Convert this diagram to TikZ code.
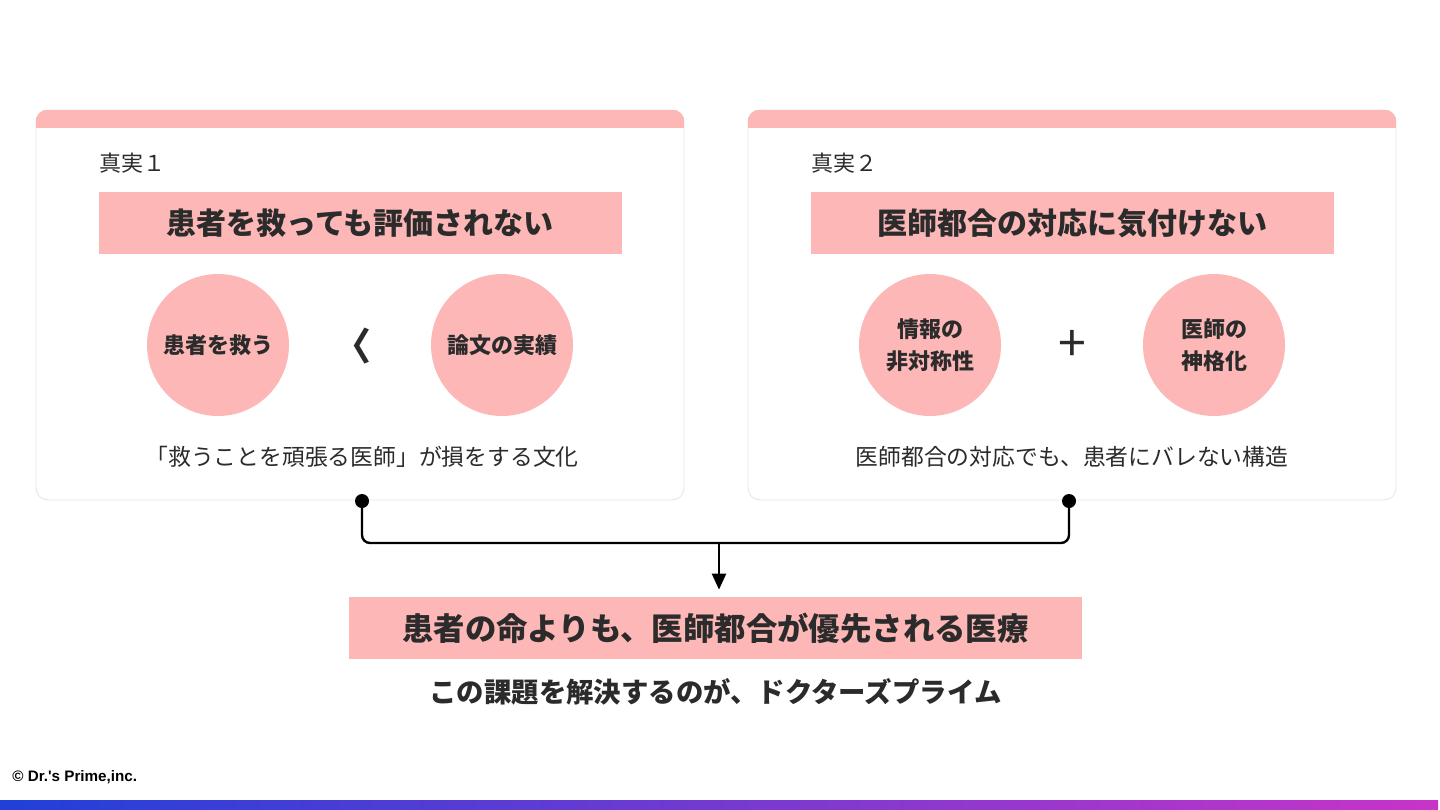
\documentclass[tikz,border=0pt]{standalone}
\usepackage{fontspec}
\setmainfont{Noto Sans CJK JP}
\newfontfamily\latinsans{Liberation Sans}
\usepackage{xcolor}
\usetikzlibrary{positioning, arrows.meta, shapes.geometric}

\definecolor{pinkc}{HTML}{FDB7B7}
\definecolor{inkc}{HTML}{2B2B2B}
\definecolor{edgec}{HTML}{E4E4E4}
\definecolor{barleft}{HTML}{2040D8}
\definecolor{barright}{HTML}{C834C8}

\begin{document}
\begin{tikzpicture}[
    x=0.5pt, y=-0.5pt,
    every node/.style={text=inkc},
    card/.style={rectangle, draw=edgec, fill=white, rounded corners=6pt, minimum width=324pt, minimum height=195pt},
    headbar/.style={rectangle, fill=pinkc, minimum width=261.5pt, minimum height=31pt, font=\fontsize{15pt}{18pt}\selectfont\bfseries},
    bubble/.style={circle, fill=pinkc, minimum size=71pt, inner sep=0pt, align=center, font=\fontsize{11pt}{16pt}\selectfont\bfseries},
    tag/.style={anchor=west, inner sep=0pt, font=\fontsize{11pt}{12pt}\selectfont},
    caption/.style={font=\fontsize{11.4pt}{14pt}\selectfont},
    dot/.style={circle, fill=black, minimum size=7pt, inner sep=0pt},
    link/.style={line width=1.2pt, rounded corners=4pt}
]
\useasboundingbox (0,0) rectangle (1440,809);

% Cards
\node[card] (card1) at (360,305) {};
\node[card] (card2) at (1072,305) {};
\foreach \c in {card1, card2} {
  \begin{scope}
    \clip[rounded corners=6pt] (\c.north west) rectangle (\c.south east);
    \fill[pinkc] (\c.north west) rectangle ([yshift=-9pt]\c.north east);
  \end{scope}
}

% Truth 1
\node[tag] (tag1) at (99,163) {真実１};
\node[headbar] (head1) at (360,223) {患者を救っても評価されない};
\node[bubble] (save) at (218,345) {患者を救う};
\node[bubble] (paper) at (502,345) {論文の実績};
\node[font=\fontsize{19pt}{19pt}\selectfont\bfseries, inner sep=0pt] (less) at (352,346) {〈};
\node[caption] (cap1) at (362,457) {「救うことを頑張る医師」が損をする文化};

% Truth 2
\node[tag] (tag2) at (811,163) {真実２};
\node[headbar] (head2) at (1072,223) {医師都合の対応に気付けない};
\node[bubble] (info) at (930,345) {情報の\\非対称性};
\node[bubble] (idol) at (1214,345) {医師の\\神格化};
\node[font=\fontsize{25pt}{25pt}\selectfont, inner sep=0pt] (plus) at (1072,346) {+};
\node[caption] (cap2) at (1072,457) {医師都合の対応でも、患者にバレない構造};

% Conclusion
\node[headbar, minimum width=366.5pt, font=\fontsize{15.7pt}{18pt}\selectfont\bfseries] (concl) at (715.5,628) {患者の命よりも、医師都合が優先される医療};
\node[below=6pt of concl, font=\fontsize{13.7pt}{16pt}\selectfont\bfseries] (answer) {この課題を解決するのが、ドクターズプライム};

% Arrows
\node[dot] (dotL) at (362,501) {};
\node[dot] (dotR) at (1069,501) {};
\coordinate (join) at (719,543);
\draw[link] (dotL.center) |- (join) -| (dotR.center);
\draw[-{Triangle[width=7pt, length=8pt]}, line width=1.2pt, shorten >=3.5pt] (join) -- (join |- concl.north);

% Footer
\node[anchor=west, inner sep=0pt, font=\latinsans\fontsize{7.6pt}{9pt}\selectfont\bfseries, text=black] (copy) at (12,777) {© Dr.'s Prime,inc.};
\shade[left color=barleft, right color=barright] (0,800) rectangle (1438,809);

\end{tikzpicture}
\end{document}
